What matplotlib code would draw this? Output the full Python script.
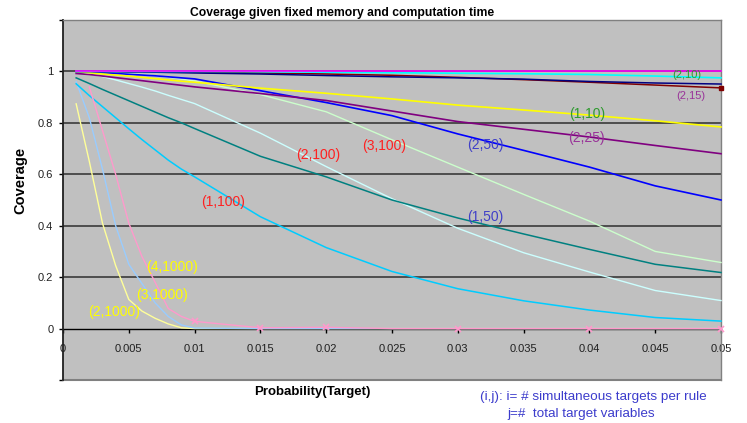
import numpy as np
import matplotlib
matplotlib.use("Agg")
import matplotlib.pyplot as plt

plt.rcParams['font.family'] = ['Liberation Sans', 'DejaVu Sans']

# ---- data ----
x = [0.001, 0.002, 0.003, 0.004, 0.005, 0.006, 0.007, 0.008, 0.009, 0.010,
     0.015, 0.020, 0.025, 0.030, 0.035, 0.040, 0.045, 0.050]

s_magenta = [1.0, 1.0, 1.0, 1.0, 1.0, 1.0, 1.0, 1.0, 1.0, 1.0,
             1.0, 1.0, 1.0, 1.0, 1.0, 1.0, 1.0, 1.0]
s_2_10 = [1.0, 1.0, 1.0, 1.0, 1.0, 1.0, 1.0, 1.0, 1.0, 1.0,
          0.999, 0.997, 0.995, 0.993, 0.991, 0.988, 0.982, 0.975]
s_navy = [1.0, 1.0, 0.999, 0.999, 0.998, 0.998, 0.997, 0.996, 0.995, 0.994,
          0.990, 0.984, 0.979, 0.975, 0.970, 0.961, 0.955, 0.951]
s_2_15 = [1.0, 1.0, 1.0, 1.0, 0.999, 0.999, 0.999, 0.998, 0.998, 0.997,
          0.994, 0.990, 0.985, 0.977, 0.968, 0.958, 0.947, 0.936]
s_1_10 = [1.0, 0.995, 0.990, 0.986, 0.982, 0.977, 0.972, 0.967, 0.962, 0.958,
          0.935, 0.915, 0.893, 0.869, 0.850, 0.830, 0.808, 0.784]
s_2_25 = [0.992, 0.988, 0.982, 0.976, 0.970, 0.964, 0.958, 0.952, 0.946, 0.940,
          0.914, 0.887, 0.846, 0.805, 0.775, 0.745, 0.712, 0.680]
s_2_50 = [1.0, 0.998, 0.995, 0.992, 0.989, 0.986, 0.983, 0.979, 0.975, 0.971,
          0.925, 0.879, 0.828, 0.757, 0.693, 0.628, 0.555, 0.500]
s_3_100 = [1.0, 0.999, 0.997, 0.995, 0.992, 0.988, 0.983, 0.977, 0.970, 0.963,
           0.910, 0.843, 0.734, 0.628, 0.522, 0.418, 0.300, 0.257]
s_1_50 = [0.975, 0.953, 0.930, 0.908, 0.886, 0.864, 0.842, 0.820, 0.800, 0.778,
          0.670, 0.590, 0.500, 0.430, 0.368, 0.308, 0.250, 0.218]
s_2_100 = [1.0, 0.990, 0.980, 0.967, 0.953, 0.939, 0.924, 0.907, 0.891, 0.875,
           0.760, 0.630, 0.505, 0.390, 0.295, 0.220, 0.148, 0.109]
s_1_100 = [0.952, 0.906, 0.863, 0.820, 0.777, 0.735, 0.695, 0.655, 0.620, 0.590,
           0.435, 0.315, 0.222, 0.155, 0.108, 0.072, 0.043, 0.029]
s_4_1000 = [np.nan, 0.940, 0.770, 0.600, 0.410, 0.280, 0.180, 0.078, 0.047, 0.028,
            0.003, 0.005, 0.0, 0.0, 0.0, 0.0, 0.0, 0.0]
s_3_1000 = [0.960, 0.820, 0.620, 0.400, 0.250, 0.175, 0.100, 0.047, 0.014, 0.002,
            0.0, 0.0, 0.0, 0.0, 0.0, 0.0, 0.0, 0.0]
s_2_1000 = [0.874, 0.650, 0.410, 0.245, 0.113, 0.068, 0.040, 0.018, 0.003, 0.0,
            0.0, 0.0, 0.0, 0.0, 0.0, 0.0, 0.0, 0.0]

xticks = [0, 0.005, 0.01, 0.015, 0.02, 0.025, 0.03, 0.035, 0.04, 0.045, 0.05]
xticklabels = ["0", "0.005", "0.01", "0.015", "0.02", "0.025", "0.03", "0.035", "0.04", "0.045", "0.05"]
yticks = [-0.2, 0, 0.2, 0.4, 0.6, 0.8, 1.0, 1.2]
yticklabels = ["", "0", "0.2", "0.4", "0.6", "0.8", "1", ""]
gridlines = [0.2, 0.4, 0.6, 0.8, 1.0]

pink_marker_x = [0.01, 0.015, 0.02, 0.03, 0.04, 0.05]

labels = [
    ("(2,10)", 0.0474, 0.988, '#2E9A2E', 8),
    ("(2,15)", 0.0477, 0.905, '#993399', 8),
    ("(1,10)", 0.0398, 0.834, '#2E9A2E', 10),
    ("(2,25)", 0.0398, 0.740, '#993399', 10),
    ("(2,50)", 0.0321, 0.713, '#4040C8', 10),
    ("(3,100)", 0.0244, 0.709, '#FF2020', 10),
    ("(2,100)", 0.0194, 0.674, '#FF2020', 10),
    ("(1,100)", 0.0122, 0.494, '#FF2020', 10),
    ("(1,50)", 0.0321, 0.433, '#4040C8', 10),
    ("(4,1000)", 0.0083, 0.238, '#FFFF00', 10),
    ("(3,1000)", 0.0075, 0.129, '#FFFF00', 10),
    ("(2,1000)", 0.0039, 0.066, '#FFFF00', 10),
]

# ---- figure ----
fig = plt.figure(figsize=(7.47, 4.23), dpi=100)
fig.patch.set_facecolor('white')
ax = fig.add_axes([63/747, 1-380/423, (721-63)/747, (380-20)/423])
ax.set_facecolor('#C0C0C0')
ax.set_xlim(0, 0.05)
ax.set_ylim(-0.2, 1.2)

for g in gridlines:
    ax.axhline(g, color='#3A3A3A', lw=1.2, zorder=1)

series = [
    (s_2_1000, '#FFFF99', 1.0),
    (s_3_1000, '#99CCFF', 1.0),
    (s_1_100, '#00CCFF', 1.1),
    (s_2_100, '#CCFFFF', 1.0),
    (s_1_50, '#008080', 1.1),
    (s_3_100, '#CCFFCC', 1.0),
    (s_2_50, '#0000FF', 1.2),
    (s_2_25, '#800080', 1.2),
    (s_1_10, '#FFFF00', 1.2),
    (s_2_15, '#800000', 1.1),
    (s_navy, '#000080', 1.1),
    (s_2_10, '#00FFFF', 1.2),
    (s_magenta, '#FF00FF', 1.2),
]
for vals, col, lw in series:
    ax.plot(x, vals, color=col, lw=lw, zorder=3, clip_on=False)

mk_idx = [x.index(v) for v in pink_marker_x]
ax.plot(x, s_4_1000, color='#FF99CC', lw=1.0, zorder=3.5, clip_on=False,
        marker='x', markersize=4.5, markeredgewidth=1.2, markevery=mk_idx)
ax.plot(x[-1:], s_2_15[-1:], marker='s', markersize=2.5, color='#800000',
        zorder=4, clip_on=False)

# spines
ax.spines['bottom'].set_position(('data', 0))
ax.spines['bottom'].set_color('black')
ax.spines['bottom'].set_linewidth(1.0)
ax.spines['bottom'].set_zorder(2)
ax.spines['left'].set_color('#202020')
ax.spines['left'].set_linewidth(1.3)
for s in ['top', 'right']:
    ax.spines[s].set_color('#808080')
    ax.spines[s].set_linewidth(1.0)
ax.plot([0, 1], [0, 0], transform=ax.transAxes, color='#808080', lw=1.5,
        clip_on=False, zorder=2)

ax.set_xticks(xticks)
ax.set_xticklabels(xticklabels, fontsize=8, color='#202020')
ax.set_yticks(yticks)
ax.set_yticklabels(yticklabels, fontsize=8, color='#202020')
ax.tick_params(axis='x', direction='out', length=3, width=1, pad=8)
ax.tick_params(axis='y', direction='out', length=3, width=1, pad=4)

for txt, lx, ly, col, fs in labels:
    ax.text(lx, ly, txt, color=col, fontsize=fs, ha='center', va='center', zorder=5)

fig.text(342/747, 1-13/423, "Coverage given fixed memory and computation time",
         fontsize=8.7, fontweight='bold', ha='center', va='center')
fig.text(20/747, 1-180/423, "Coverage", rotation=90, fontsize=10.5,
         fontweight='bold', ha='center', va='center')
fig.text(312/747, 1-392/423, "Probability(Target)", fontsize=9.5,
         fontweight='bold', ha='center', va='center')
fig.text(480/747, 1-397/423, "(i,j): i= # simultaneous targets per rule",
         fontsize=9.7, color='#3C3CCC', ha='left', va='center')
fig.text(507/747, 1-414/423, "j=#  total target variables",
         fontsize=9.7, color='#3C3CCC', ha='left', va='center')

fig.savefig('out.png', dpi=100)
